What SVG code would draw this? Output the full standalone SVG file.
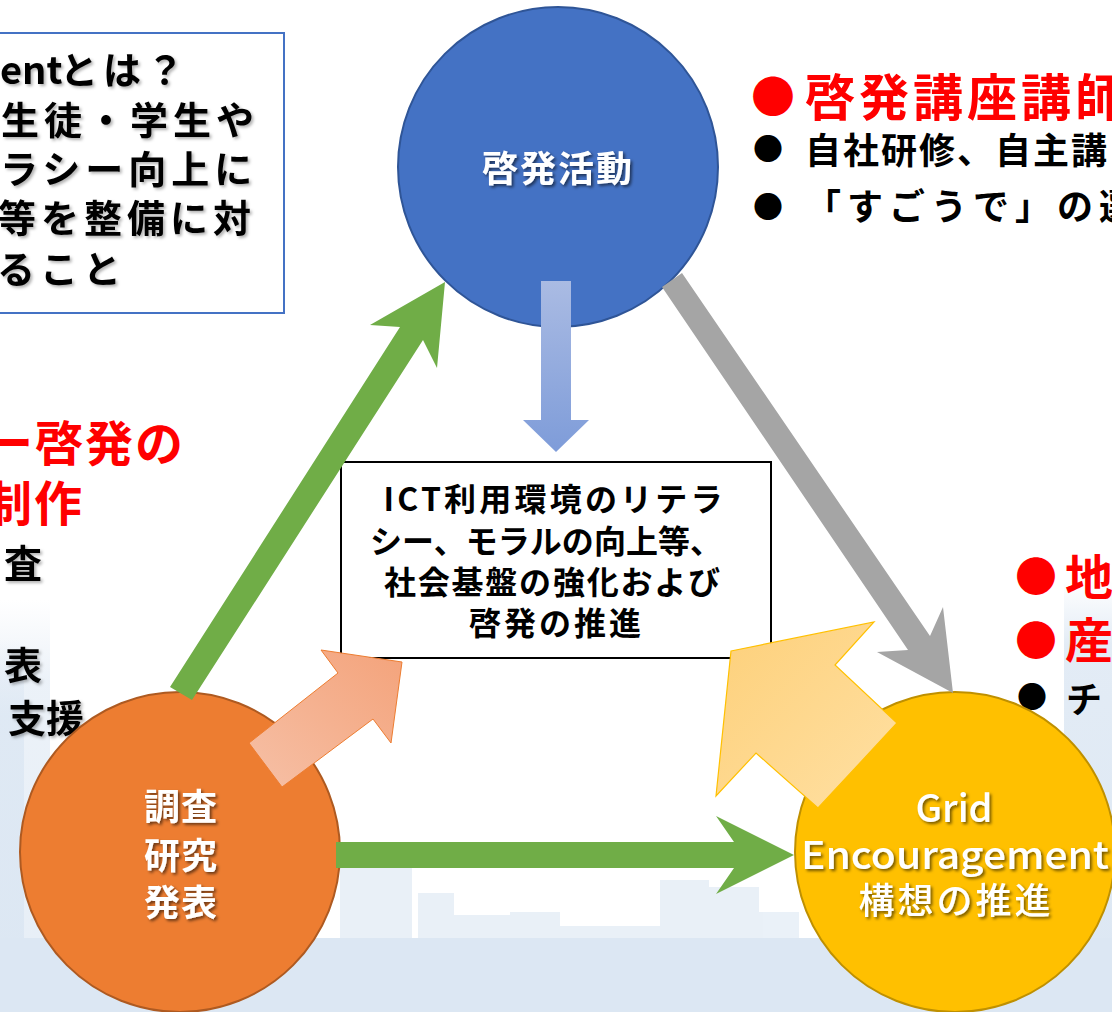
<svg xmlns="http://www.w3.org/2000/svg" width="1112" height="1012" viewBox="0 0 1112 1012">
<style>
.jp{font-family:"Noto Sans CJK JP","Noto Sans",sans-serif;font-weight:bold;dominant-baseline:central}
.red{fill:#FF0000}
.blk{fill:#000}
.wht{fill:#FFFFFF}
.bg{fill:#DCE7F3}
</style>
<defs>
<filter id="shW" x="-20%" y="-30%" width="140%" height="160%"><feDropShadow dx="2" dy="2" stdDeviation="1.5" flood-color="#000" flood-opacity="0.55"/></filter>
<filter id="shB" x="-20%" y="-30%" width="140%" height="160%"><feDropShadow dx="2" dy="2" stdDeviation="1.5" flood-color="#000" flood-opacity="0.3"/></filter>
<linearGradient id="gDown" x1="0" y1="0" x2="0" y2="1"><stop offset="0" stop-color="#AABBE3"/><stop offset="1" stop-color="#7E9CD9"/></linearGradient>
<linearGradient id="gSal" x1="0" y1="1" x2="1" y2="0"><stop offset="0" stop-color="#F6C0A6"/><stop offset="1" stop-color="#F4A37B"/></linearGradient>
<linearGradient id="gYel" x1="0" y1="0" x2="1" y2="1"><stop offset="0" stop-color="#FDD07A"/><stop offset="1" stop-color="#FFE0A3"/></linearGradient>
<linearGradient id="gLeft" x1="0" y1="0" x2="0" y2="1"><stop offset="0" stop-color="#DCE7F3" stop-opacity="0"/><stop offset="0.2" stop-color="#DCE7F3" stop-opacity="0.8"/><stop offset="1" stop-color="#DCE7F3" stop-opacity="1"/></linearGradient>
<linearGradient id="gRight" x1="0" y1="0" x2="0" y2="1"><stop offset="0" stop-color="#DCE7F3" stop-opacity="0"/><stop offset="0.15" stop-color="#DCE7F3" stop-opacity="0.8"/><stop offset="1" stop-color="#DCE7F3" stop-opacity="1"/></linearGradient>
</defs>
<rect width="1112" height="1012" fill="#FFFFFF"/>
<g id="background">
<rect class="bg" x="0" y="938" width="1112" height="74"/>
<g opacity="0.6">
<rect class="bg" x="340" y="868" width="72" height="70"/>
<rect class="bg" x="418" y="893" width="36" height="45"/>
<rect class="bg" x="454" y="915" width="56" height="23"/>
<rect class="bg" x="510" y="912" width="50" height="26"/>
<rect class="bg" x="560" y="926" width="100" height="12"/>
<rect class="bg" x="660" y="880" width="49" height="58"/>
<rect class="bg" x="709" y="887" width="50" height="51"/>
<rect class="bg" x="759" y="912" width="40" height="26"/>
</g>
<rect x="0" y="600" width="50" height="412" fill="url(#gLeft)" opacity="0.7"/>
<rect x="0" y="640" width="24" height="372" fill="url(#gLeft)"/>
<rect x="1064" y="580" width="48" height="432" fill="url(#gRight)"/>
</g>
<g id="note-box">
<rect x="-2" y="33" width="286" height="280" fill="#FFFFFF" stroke="#4472C4" stroke-width="2"/>
<g filter="url(#shB)" class="jp blk" font-size="38" letter-spacing="5">
<text y="67"><tspan x="0" letter-spacing="0">ent</tspan><tspan x="60">とは？</tspan></text>
<text x="1" y="117">生徒・学生や</text>
<text x="0" y="166">ラシー向上に</text>
<text x="-2" y="215">等を整備に対</text>
<text x="-3" y="266">ること</text>
</g>
</g>
<g id="left-notes">
<text class="jp red" x="-15" y="440" font-size="48" letter-spacing="2">ー啓発の</text>
<text class="jp red" x="-16" y="500" font-size="48" letter-spacing="2">制作</text>
<g filter="url(#shB)" class="jp blk" font-size="38">
<text x="4" y="560">査</text>
<text x="4" y="662">表</text>
<text x="8" y="715">支援</text>
</g>
</g>
<g id="right-top-notes">
<text class="jp red" x="773" y="94" font-size="44" text-anchor="middle">●</text>
<text class="jp red" x="805" y="94" font-size="50" letter-spacing="4">啓発講座講師</text>
<text class="jp blk" x="768" y="147" font-size="30" text-anchor="middle">●</text>
<text class="jp blk" x="805" y="148" font-size="36" letter-spacing="2">自社研修、自主講</text>
<text class="jp blk" x="768" y="205" font-size="30" text-anchor="middle">●</text>
<text class="jp blk" x="805" y="204" font-size="36" letter-spacing="6">「すごうで」の選</text>
</g>
<g id="right-mid-notes">
<text class="jp red" x="1036" y="573" font-size="42" text-anchor="middle">●</text>
<text class="jp red" x="1065" y="574" font-size="48">地</text>
<text class="jp red" x="1036" y="637" font-size="42" text-anchor="middle">●</text>
<text class="jp red" x="1065" y="637" font-size="48">産</text>
<text class="jp blk" x="1032" y="695" font-size="30" text-anchor="middle">●</text>
<text class="jp blk" x="1066" y="697" font-size="36">チ</text>
</g>
<g id="node-keihatsu">
<circle cx="558" cy="167" r="160" fill="#4472C4" stroke="#2F5597" stroke-width="2"/>
<text class="jp wht" x="558" y="166" font-size="36" letter-spacing="2" text-anchor="middle" filter="url(#shW)">啓発活動</text>
</g>
<g id="node-chousa">
<circle cx="180" cy="852" r="160" fill="#ED7D31" stroke="#AE5A21" stroke-width="2"/>
<g class="jp wht" font-size="36" letter-spacing="1" text-anchor="middle" filter="url(#shW)">
<text x="181" y="804">調査</text>
<text x="181" y="853">研究</text>
<text x="181" y="900">発表</text>
</g>
</g>
<g id="node-grid">
<circle cx="955" cy="852" r="160" fill="#FFC000" stroke="#BF9000" stroke-width="2"/>
<g class="wht" font-family="'Noto Sans CJK JP','Noto Sans',sans-serif" font-weight="500" text-anchor="middle" filter="url(#shW)" style="dominant-baseline:central">
<text x="954" y="805" font-size="38">Grid</text>
<text x="955" y="852" font-size="38" textLength="308" lengthAdjust="spacingAndGlyphs">Encouragement</text>
<text x="956" y="898" font-size="36" letter-spacing="3">構想の推進</text>
</g>
</g>
<g id="node-center">
<rect x="341" y="462" width="430" height="196" fill="#FFFFFF" stroke="#000" stroke-width="2"/>
<g class="jp blk" font-size="32" text-anchor="middle">
<text x="553" y="497" textLength="339" lengthAdjust="spacing">ICT利用環境のリテラ</text>
<text x="546" y="539" textLength="352" lengthAdjust="spacing">シー、モラルの向上等、</text>
<text x="552" y="580" textLength="336" lengthAdjust="spacing">社会基盤の強化および</text>
<text x="555" y="621" textLength="172" lengthAdjust="spacing">啓発の推進</text>
</g>
</g>
<g id="connectors">
<polygon points="541,281 571,281 571,420 589,420 556,452 523,420 541,420" fill="url(#gDown)"/>
<polygon points="170,687 400,327 370,325 445,282 437,368 423,340 192,700" fill="#70AD47"/>
<polygon points="662,287 908,650 877,652 953,693 943,607 930,636 682,273" fill="#A5A5A5"/>
<polygon points="336,842 734,842 716,816 794,855 716,894 734,868 336,868" fill="#70AD47"/>
<polygon points="249,743 338,673 321,650 402,662 391,743 373,719 282,787" fill="url(#gSal)" stroke="#ED7D31" stroke-width="1"/>
<polygon points="731,651 874,622 835,665 897,723 818,808 756,753 716,796" fill="url(#gYel)" stroke="#FFC000" stroke-width="1.2"/>
</g>
</svg>
